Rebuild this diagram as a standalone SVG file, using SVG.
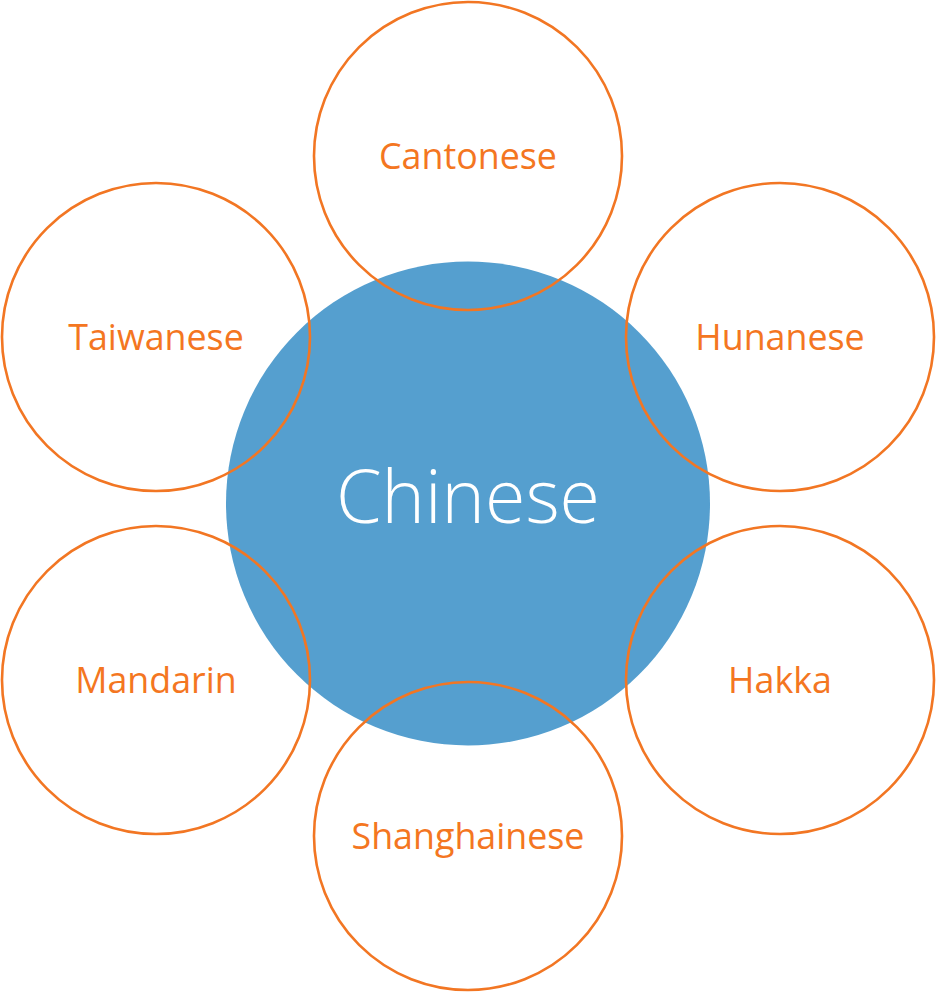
<svg xmlns="http://www.w3.org/2000/svg" width="936" height="992" viewBox="0 0 936 992">
<style>
.sat{fill:none;stroke:#F27623;stroke-width:2.6}
.lbl{font-family:"Open Sans",sans-serif;font-size:35.8px;fill:#F47621;text-anchor:middle}
.main{font-family:"Open Sans",sans-serif;font-weight:300;font-size:73.5px;fill:#FFFFFF;text-anchor:middle}
</style>
<rect width="936" height="992" fill="#FFFFFF"/>
<g id="chinese">
<circle cx="468" cy="503.5" r="242" fill="#559FCF"/>
<text class="main" x="468" y="523">Chinese</text>
</g>
<g id="cantonese"><circle class="sat" cx="468" cy="156" r="154"/><text class="lbl" x="468" y="169">Cantonese</text></g>
<g id="taiwanese"><circle class="sat" cx="156" cy="337" r="154"/><text class="lbl" x="156" y="350">Taiwanese</text></g>
<g id="hunanese"><circle class="sat" cx="780" cy="337" r="154"/><text class="lbl" x="780" y="350">Hunanese</text></g>
<g id="mandarin"><circle class="sat" cx="156" cy="680" r="154"/><text class="lbl" x="156" y="693">Mandarin</text></g>
<g id="hakka"><circle class="sat" cx="780" cy="680" r="154"/><text class="lbl" x="780" y="693">Hakka</text></g>
<g id="shanghainese"><circle class="sat" cx="468" cy="836" r="154"/><text class="lbl" x="468" y="849">Shanghainese</text></g>
</svg>
